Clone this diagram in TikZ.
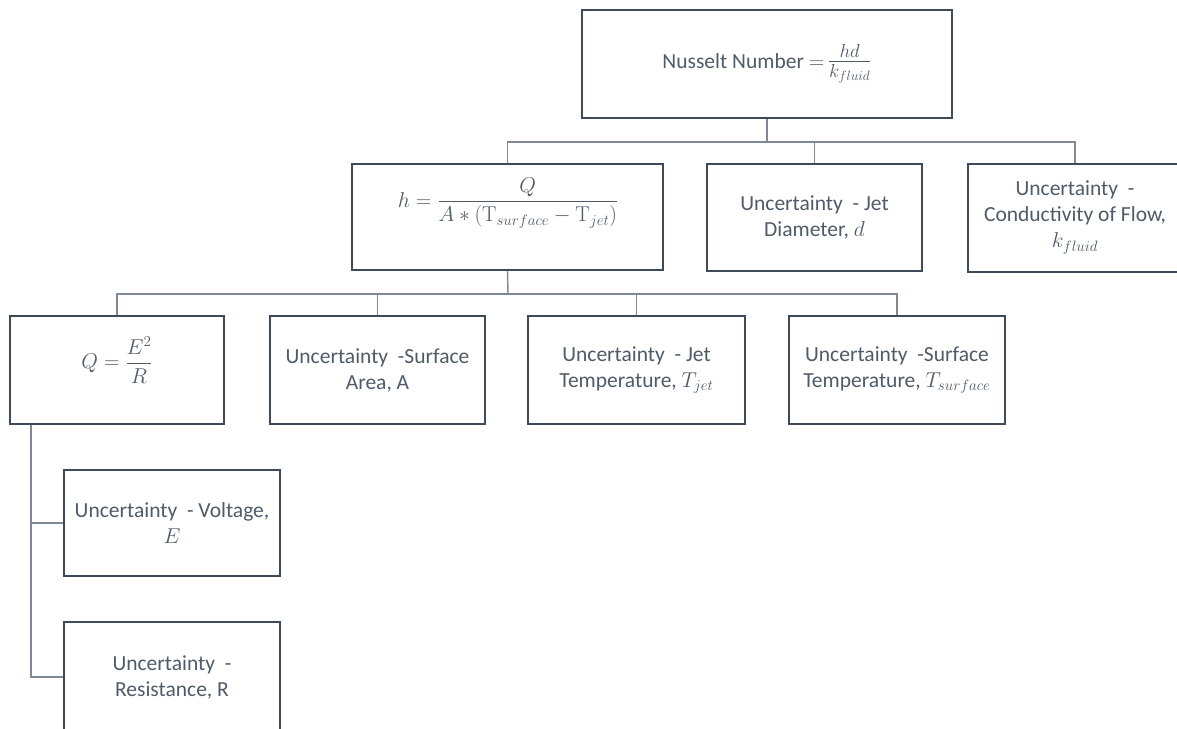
\documentclass[tikz,border=0pt]{standalone}
\usepackage{fix-cm}
\usepackage{amsmath}
\usepackage[no-math]{fontspec}
\setmainfont{Carlito}
\definecolor{boxline}{HTML}{3E4A5A}
\definecolor{connline}{HTML}{7F8895}
\definecolor{txt}{HTML}{505B69}
\begin{document}
\begin{tikzpicture}[x=1pt,y=-1pt,
  box/.style={draw=boxline, line width=2pt, inner sep=0pt, align=center,
    text=txt, font=\fontsize{21.5}{26}\selectfont},
  lbl/.style={text=txt, inner sep=0pt, align=center, font=\fontsize{21.5}{26}\selectfont},
  conn/.style={draw=connline, line width=1.4pt}]
\useasboundingbox[fill=white] (0,0) rectangle (1177,728);

% top level
\node[box, minimum width=370pt, minimum height=108pt] (nu) at (767,64)
  {Nusselt Number $=$\,{\fontsize{27}{30}\selectfont$\frac{hd}{k_{fluid}}$}};

% second level
\node[box, minimum width=311pt, minimum height=106pt] (h) at (507.5,217) {};
\node[lbl] (htxt) at (508,203)
  {$h=\dfrac{Q}{A\ast(\mathrm{T}_{surface}-\mathrm{T}_{jet})}$};
\node[box, minimum width=215pt, minimum height=107pt] (d) at (814.5,217.5)
  {Uncertainty~ - Jet\\Diameter, $d$};
\node[box, minimum width=214pt, minimum height=108pt] (k) at (1075,217.5)
  {Uncertainty~ -\\Conductivity of Flow,\\$k_{fluid}$};

% third level
\node[box, minimum width=214pt, minimum height=108pt] (q) at (117,370) {};
\node[lbl] (qtxt) at (117,360) {$Q=\dfrac{E^{2}}{R}$};
\node[box, minimum width=215pt, minimum height=108pt] (sa) at (377.5,370)
  {Uncertainty~ -Surface\\Area, A};
\node[box, minimum width=217pt, minimum height=108pt] (tj) at (636.5,370)
  {Uncertainty~ - Jet\\Temperature, $T_{jet}$};
\node[box, minimum width=216pt, minimum height=108pt] (ts) at (897,370)
  {Uncertainty~ -Surface\\Temperature, $T_{surface}$};

% fourth level
\node[box, minimum width=216pt, minimum height=106pt] (v) at (172,523)
  {Uncertainty~ - Voltage,\\$E$};
\node[box, minimum width=216pt, minimum height=110pt] (r) at (172,677)
  {Uncertainty~ -\\Resistance, R};

% connectors
\coordinate (j1) at (767,142);
\coordinate (j2) at (508,294);
\draw[conn] (nu.south) -- (j1);
\draw[conn] (h.north) -- (h.north |- j1) -| (k.north);
\draw[conn] (d.north) -- (d.north |- j1);
\draw[conn] (h.south) -- (j2);
\draw[conn] (q.north) -- (q.north |- j2) -| (ts.north);
\draw[conn] (sa.north) -- (sa.north |- j2);
\draw[conn] (tj.north) -- (tj.north |- j2);
\draw[conn] ([xshift=22pt]q.south west) |- (v.west);
\draw[conn] ([xshift=22pt]q.south west) |- (r.west);
\end{tikzpicture}
\end{document}
